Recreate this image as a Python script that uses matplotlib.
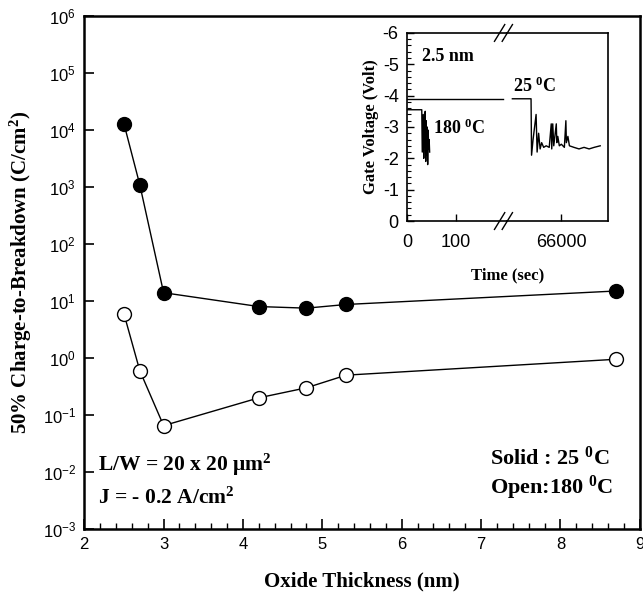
import numpy as np
import matplotlib
matplotlib.use("Agg")
from matplotlib import pyplot as plt
from matplotlib.ticker import MultipleLocator, FixedLocator, NullLocator

plt.rcParams['font.family'] = 'Liberation Sans'
plt.rcParams['mathtext.default'] = 'regular'

# main chart data
thickness = [2.5, 2.7, 3.0, 4.2, 4.8, 5.3, 8.7]
qbd_25c = [1.3e4, 1.1e3, 14, 8.0, 7.5, 8.7, 15]
qbd_180c = [6.0, 0.6, 0.065, 0.2, 0.3, 0.5, 0.95]

# inset data (time in sec, gate voltage in V)
t_180_left = [0, 30, 31, 33, 34, 35, 36, 37, 38, 39, 40, 41, 42, 43, 44, 45, 46]
v_180_left = [-3.55, -3.55, -2.2, -3.4, -2.0, -3.3, -2.4, -3.5, -1.9, -3.2, -2.1, -3.0, -1.8, -2.9, -2.3, -2.6, -2.2]
t_25_left = [0, 195]
v_25_left = [-3.9, -3.9]
t_25_right = [65030, 65400, 65410, 65440, 65500, 65520, 65550, 65580, 65610, 65650, 65700,
              65760, 65800, 65810, 65830, 65850, 65900, 65910, 65930, 65960, 66000, 66060,
              66090, 66100, 66130, 66160, 66250, 66350, 66450, 66550, 66650, 66770]
v_25_right = [-3.9, -3.9, -2.1, -2.6, -3.4, -2.2, -2.8, -2.3, -2.5, -2.35, -2.4,
              -2.35, -3.1, -2.3, -3.1, -2.4, -3.1, -2.5, -2.7, -2.4, -2.45, -2.35,
              -3.2, -2.5, -2.7, -2.4, -2.35, -2.3, -2.35, -2.3, -2.35, -2.4]

fig = plt.figure(figsize=(6.43, 5.99), dpi=100)
ax = fig.add_axes([0.131, 0.117, 0.864, 0.856])

ax.semilogy(thickness, qbd_25c, 'o-', color='black', lw=1, ms=10, mfc='black', mec='black')
ax.semilogy(thickness, qbd_180c, 'o-', color='black', lw=1, ms=10, mfc='white', mec='black', mew=1)

ax.set_xlim(2, 9)
ax.set_ylim(1e-3, 1e6)
ax.xaxis.set_major_locator(MultipleLocator(1))
ax.xaxis.set_minor_locator(MultipleLocator(0.2))
ax.set_yticks([10.0 ** k for k in range(-3, 7)])
ax.set_yticklabels([r'$10^{%d}$' % k for k in range(-3, 7)])
ax.yaxis.set_minor_locator(NullLocator())
ax.tick_params(which='major', direction='in', length=7, width=1.2, labelsize=12, pad=6)
ax.tick_params(which='minor', direction='in', length=4, width=1)
for s in ax.spines.values():
    s.set_linewidth(1.8)

serif = 'Liberation Serif'
ax.set_xlabel('Oxide Thickness (nm)', family=serif, weight='bold', fontsize=15, labelpad=14)
ax.set_ylabel('50% Charge-to-Breakdown (C/cm$^2$)', family=serif, weight='bold', fontsize=15, labelpad=6)

ax.text(0.025, 0.125, r'L/W = 20 x 20 $\mu$m$^2$', transform=ax.transAxes,
        family=serif, weight='bold', fontsize=15.5, va='center')
ax.text(0.025, 0.06, 'J = - 0.2 A/cm$^2$', transform=ax.transAxes,
        family=serif, weight='bold', fontsize=15.5, va='center')
ax.text(0.73, 0.138, 'Solid : 25 $^0$C', transform=ax.transAxes,
        family=serif, weight='bold', fontsize=16, va='center')
ax.text(0.73, 0.08, 'Open:180 $^0$C', transform=ax.transAxes,
        family=serif, weight='bold', fontsize=16, va='center')

# inset with broken time axis
ins_l = fig.add_axes([0.633, 0.631, 0.156, 0.314])
ins_r = fig.add_axes([0.789, 0.631, 0.157, 0.314])

ins_l.plot(t_180_left, v_180_left, color='black', lw=1)
ins_l.plot(t_25_left, v_25_left, color='black', lw=1)
ins_r.plot(t_25_right, v_25_right, color='black', lw=1)

for a in (ins_l, ins_r):
    a.set_ylim(0, -6)
    for s in a.spines.values():
        s.set_linewidth(1.2)
    a.tick_params(which='major', direction='in', length=5, width=1, labelsize=13, pad=6)
    a.tick_params(which='minor', direction='in', length=3, width=0.8)
    a.tick_params(axis='x', pad=9)

ins_l.set_xlim(0, 204)
ins_r.set_xlim(64930, 66930)
ins_l.spines['right'].set_visible(False)
ins_r.spines['left'].set_visible(False)
ins_l.xaxis.set_major_locator(FixedLocator([0, 100]))
ins_r.xaxis.set_major_locator(FixedLocator([66000]))
ins_l.yaxis.set_major_locator(MultipleLocator(1))
ins_l.yaxis.set_minor_locator(MultipleLocator(0.2))
ins_l.set_yticklabels(['0' if v == 0 else '%d' % v for v in ins_l.get_yticks()])
ins_r.set_yticks([])

ins_l.set_ylabel('Gate Voltage (Volt)', family=serif, weight='bold', fontsize=12, labelpad=3)
fig.text(0.789, 0.541, 'Time (sec)', family=serif, weight='bold', fontsize=12, ha='center', va='center')

ins_l.text(30, -5.25, '2.5 nm', family=serif, weight='bold', fontsize=13, va='center')
ins_l.text(52, -2.95, '180 $^0$C', family=serif, weight='bold', fontsize=13, va='center')
ins_r.text(65050, -4.3, '25 $^0$C', family=serif, weight='bold', fontsize=13, va='center')

# break marks on the time axis
for yb in (0.0, 1.0):
    for dx in (-0.012, 0.0):
        fig.add_artist(plt.Line2D([0.781 + dx, 0.797 + dx], [0.631 + (yb * 0.314) - 0.014, 0.631 + (yb * 0.314) + 0.014],
                                  transform=fig.transFigure, color='black', lw=1))

fig.savefig('out.png', dpi=100)
